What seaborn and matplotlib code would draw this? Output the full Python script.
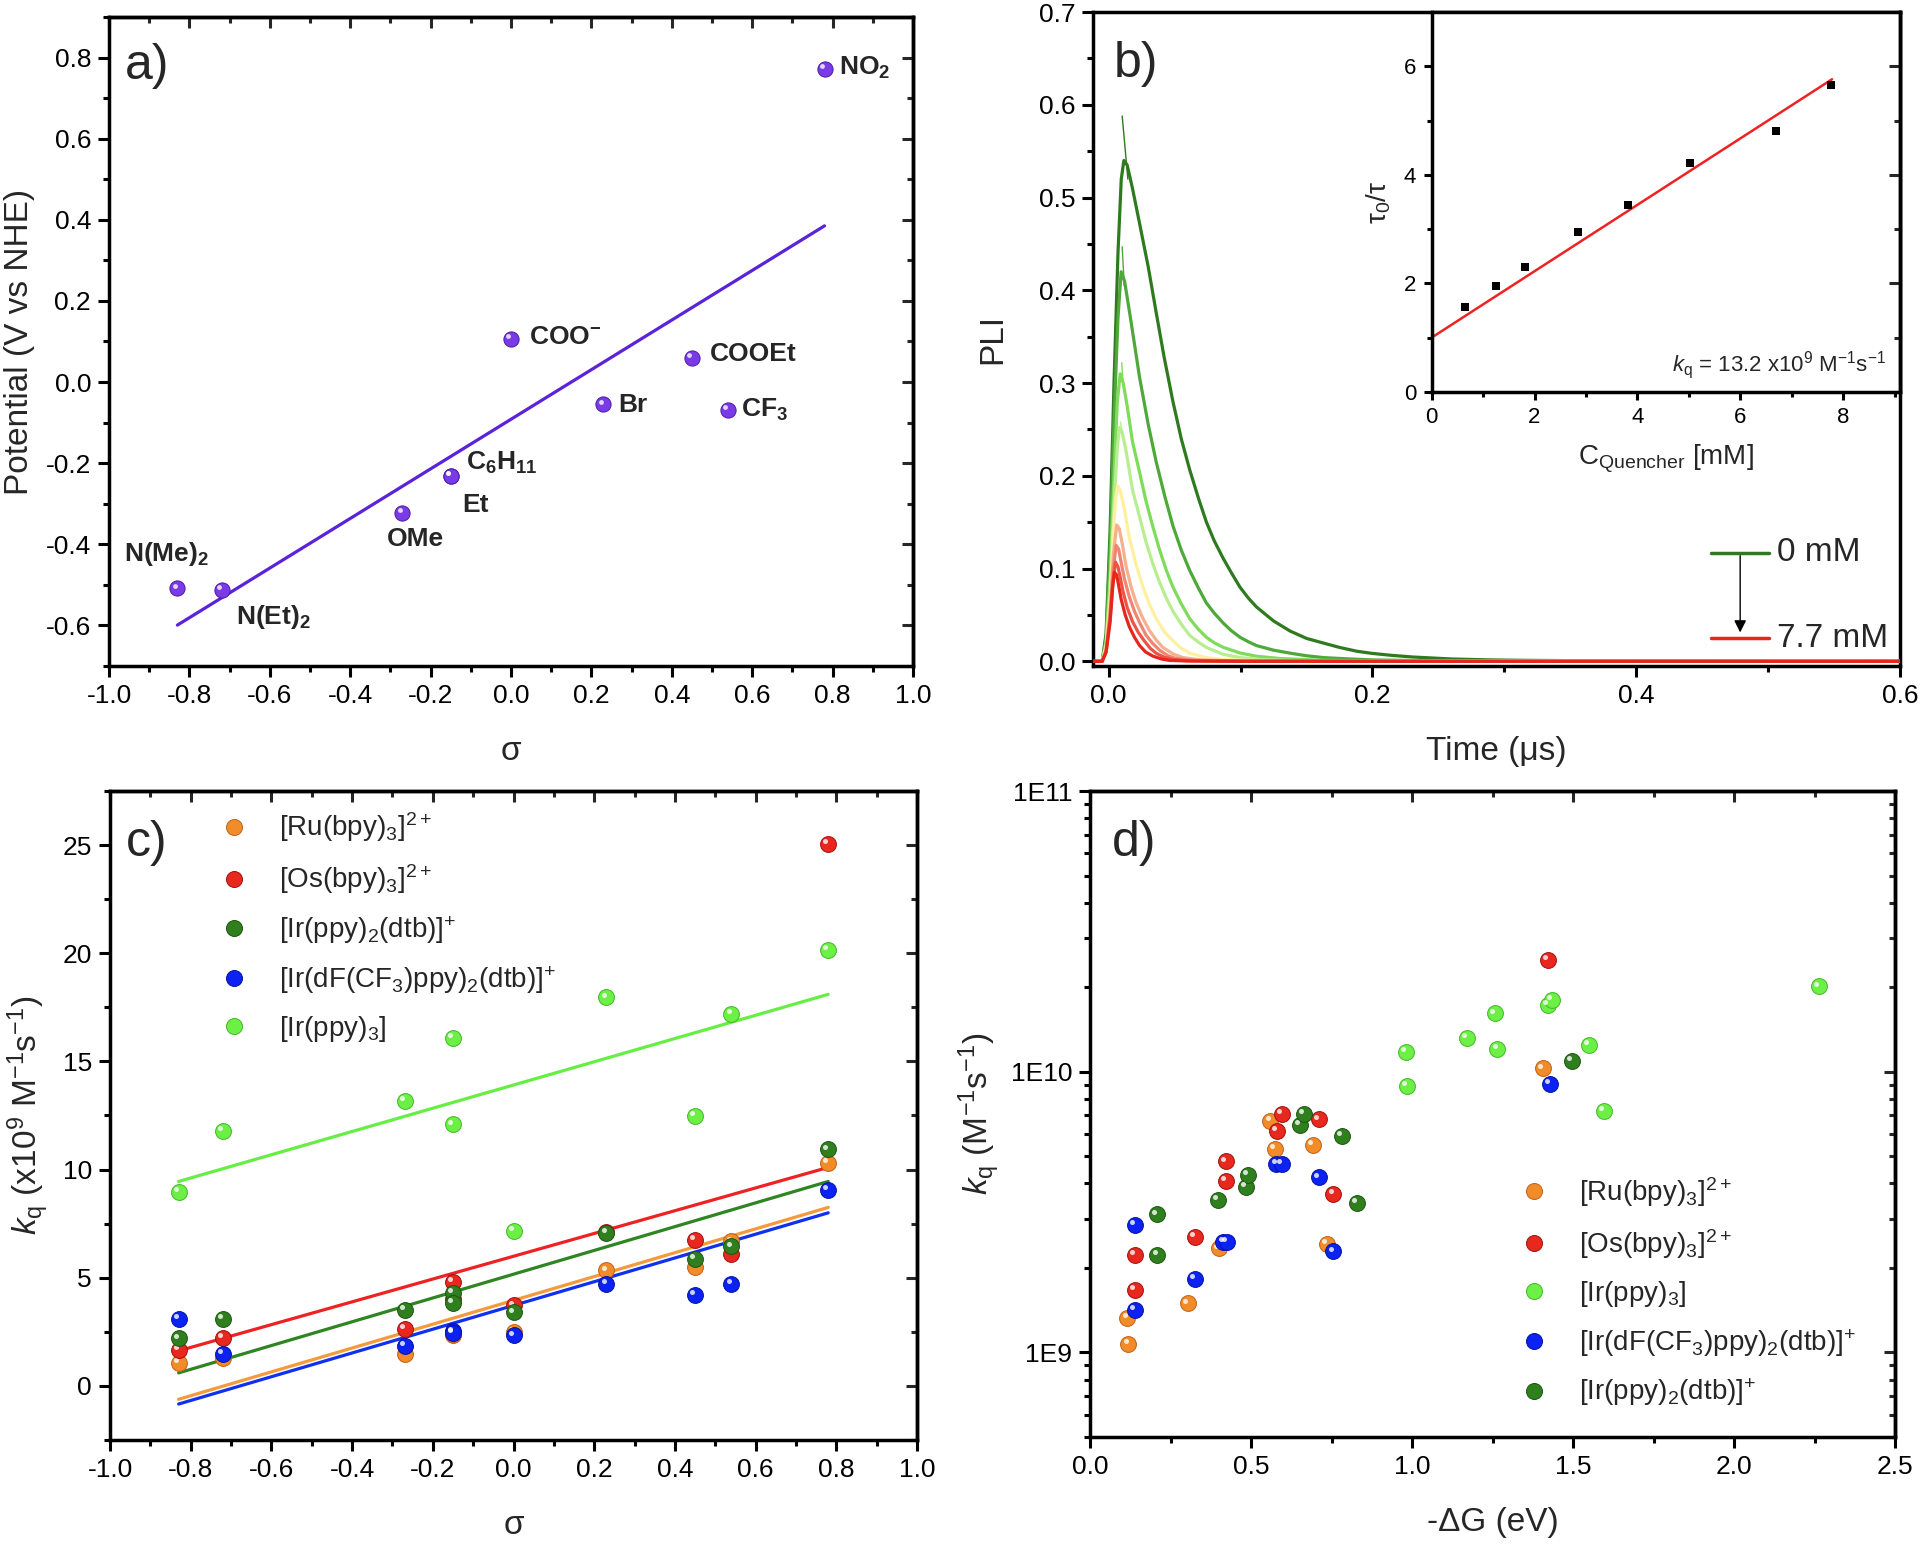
import numpy as np
import pandas as pd
import matplotlib
matplotlib.use("Agg")
import matplotlib.pyplot as plt
import seaborn as sns
from matplotlib.lines import Line2D
from matplotlib.ticker import MultipleLocator, LogLocator, NullFormatter, FixedLocator, FuncFormatter
from matplotlib.transforms import offset_copy

# ---------------- data ----------------
# panel a
sub_names = ["N(Me)$_\\mathbf{2}$", "N(Et)$_\\mathbf{2}$", "OMe", "Et", "C$_\\mathbf{6}$H$_\\mathbf{11}$",
             "COO$^{\\mathbf{-}}$", "Br", "COOEt", "CF$_\\mathbf{3}$", "NO$_\\mathbf{2}$"]
sigma = [-0.83, -0.72, -0.27, -0.15, -0.15, 0.00, 0.23, 0.45, 0.54, 0.78]
potential = [-0.509, -0.513, -0.322, -0.231, -0.231, 0.106, -0.055, 0.060, -0.068, 0.772]
label_x = [-0.963, -0.685, -0.309, -0.122, -0.111, 0.046, 0.266, 0.495, 0.571, 0.817]
label_y = [-0.423, -0.579, -0.387, -0.303, -0.200, 0.112, -0.056, 0.070, -0.068, 0.775]

# panel b: decay traces
b_conc = ["0 mM", "0.65 mM", "1.25 mM", "1.82 mM", "2.85 mM", "3.82 mM", "5.02 mM", "6.70 mM", "7.7 mM"]
b_t = [
    [-0.012, -0.005, -0.002, 0.001, 0.004, 0.007, 0.0095, 0.0115, 0.014, 0.018, 0.0234, 0.030, 0.036, 0.042, 0.0487,
     0.055, 0.0614, 0.068, 0.0741, 0.080, 0.0868, 0.093, 0.0995, 0.106, 0.112, 0.125, 0.1376, 0.15, 0.163, 0.175,
     0.188, 0.20, 0.214, 0.23, 0.26, 0.29, 0.32, 0.40, 0.6],
    [-0.012, -0.005, -0.002, 0.001, 0.004, 0.007, 0.0094, 0.012, 0.0165, 0.0234, 0.030, 0.036, 0.0425, 0.0487, 0.055,
     0.0614, 0.068, 0.074, 0.080, 0.087, 0.093, 0.0995, 0.106, 0.112, 0.125, 0.138, 0.15, 0.163, 0.18, 0.2, 0.25, 0.6],
    [-0.012, -0.005, -0.002, 0.001, 0.004, 0.0065, 0.0087, 0.011, 0.014, 0.018, 0.0235, 0.0284, 0.0335, 0.0386, 0.0437,
     0.0487, 0.055, 0.0614, 0.0677, 0.074, 0.080, 0.087, 0.0995, 0.112, 0.13, 0.16, 0.2, 0.6],
    [-0.012, -0.005, -0.002, 0.001, 0.004, 0.0065, 0.0081, 0.010, 0.013, 0.018, 0.0235, 0.0284, 0.0335, 0.0386, 0.0437,
     0.0487, 0.055, 0.0614, 0.0677, 0.074, 0.087, 0.0995, 0.115, 0.14, 0.2, 0.6],
    [-0.012, -0.005, -0.002, 0.001, 0.0035, 0.0055, 0.0069, 0.009, 0.012, 0.0157, 0.0208, 0.026, 0.031, 0.036, 0.042,
     0.0487, 0.055, 0.0614, 0.074, 0.087, 0.12, 0.6],
    [-0.012, -0.005, -0.002, 0.001, 0.0035, 0.0061, 0.008, 0.0105, 0.0132, 0.017, 0.0208, 0.026, 0.031, 0.036, 0.041,
     0.0487, 0.0563, 0.07, 0.1, 0.6],
    [-0.012, -0.005, -0.002, 0.001, 0.0035, 0.0056, 0.0075, 0.0095, 0.0119, 0.0155, 0.0195, 0.024, 0.0284, 0.0335,
     0.0386, 0.045, 0.051, 0.065, 0.1, 0.6],
    [-0.012, -0.005, -0.002, 0.001, 0.0033, 0.0051, 0.007, 0.0088, 0.0107, 0.014, 0.018, 0.0225, 0.027, 0.0315, 0.036,
     0.042, 0.0487, 0.06, 0.1, 0.6],
    [-0.012, -0.005, -0.002, 0.001, 0.003, 0.0043, 0.006, 0.0075, 0.0094, 0.0125, 0.0157, 0.0195, 0.0234, 0.028,
     0.0335, 0.04, 0.046, 0.06, 0.1, 0.6],
]
b_pli = [
    [0, 0, 0.03, 0.14, 0.30, 0.44, 0.52, 0.54, 0.535, 0.51, 0.472, 0.425, 0.376, 0.328, 0.280, 0.240, 0.2065, 0.176,
     0.150, 0.130, 0.111, 0.0955, 0.080, 0.068, 0.0587, 0.0435, 0.0326, 0.0247, 0.0196, 0.015, 0.0109, 0.0085,
     0.0065, 0.0047, 0.0025, 0.0015, 0.001, 0.0003, 0.0],
    [0, 0, 0.025, 0.12, 0.26, 0.37, 0.42, 0.41, 0.37, 0.306, 0.255, 0.215, 0.178, 0.146, 0.12, 0.098, 0.079, 0.063,
     0.052, 0.041, 0.033, 0.026, 0.021, 0.017, 0.012, 0.0087, 0.006, 0.004, 0.0027, 0.0015, 0.0005, 0],
    [0, 0, 0.02, 0.09, 0.20, 0.28, 0.31, 0.30, 0.275, 0.237, 0.203, 0.172, 0.145, 0.120, 0.098, 0.080, 0.062, 0.046,
     0.035, 0.026, 0.020, 0.015, 0.009, 0.0055, 0.003, 0.0012, 0.0004, 0],
    [0, 0, 0.018, 0.075, 0.17, 0.23, 0.252, 0.248, 0.228, 0.185, 0.155, 0.128, 0.105, 0.085, 0.068, 0.054, 0.040,
     0.028, 0.021, 0.015, 0.0075, 0.004, 0.002, 0.0008, 0.0002, 0],
    [0, 0, 0.015, 0.065, 0.14, 0.178, 0.189, 0.183, 0.163, 0.133, 0.104, 0.080, 0.061, 0.046, 0.032, 0.022, 0.014,
     0.0087, 0.004, 0.002, 0.0005, 0],
    [0, 0, 0.012, 0.055, 0.115, 0.147, 0.143, 0.125, 0.102, 0.080, 0.063, 0.046, 0.033, 0.023, 0.015, 0.008, 0.004,
     0.0015, 0.0003, 0],
    [0, 0, 0.011, 0.05, 0.10, 0.125, 0.121, 0.106, 0.089, 0.070, 0.054, 0.040, 0.028, 0.019, 0.012, 0.006, 0.003,
     0.001, 0.0002, 0],
    [0, 0, 0.01, 0.045, 0.088, 0.107, 0.102, 0.090, 0.076, 0.058, 0.043, 0.031, 0.022, 0.014, 0.0087, 0.0045, 0.002,
     0.0007, 0.0001, 0],
    [0, 0, 0.01, 0.042, 0.08, 0.096, 0.093, 0.082, 0.067, 0.050, 0.037, 0.026, 0.017, 0.010, 0.0056, 0.0025, 0.001,
     0.0003, 0.0, 0],
]
b_colors = ["#2E7A1E", "#4EA83A", "#7EDC5A", "#B8EE90", "#FFF0A0", "#F5B08E", "#F08672", "#EC5444", "#E5261C"]
spike_t = [[0.0102, 0.0145], [0.0102, 0.0118], [0.0099, 0.0108], [0.0090, 0.0095]]
spike_v = [[0.588, 0.52], [0.447, 0.405], [0.322, 0.300], [0.258, 0.250]]

# inset
conc_q = [0.65, 1.25, 1.82, 2.85, 3.82, 5.02, 6.70, 7.75]
tau_ratio = [1.57, 1.96, 2.31, 2.95, 3.45, 4.21, 4.81, 5.66]
sv_fit_x = [0.0, 7.78]
sv_fit_y = [1.0, 5.76]

# panel c
series_c = ["[Ru(bpy)$_3$]$^{2+}$", "[Os(bpy)$_3$]$^{2+}$", "[Ir(ppy)$_2$(dtb)]$^{+}$",
            "[Ir(dF(CF$_3$)ppy)$_2$(dtb)]$^{+}$", "[Ir(ppy)$_3$]"]
kq_ru = [1.07, 1.28, 1.49, 2.33, 2.40, 2.48, 5.34, 5.49, 6.68, 10.31]
kq_os = [1.67, 2.22, 2.63, 4.82, 4.00, 3.72, 7.10, 6.76, 6.10, 25.07]
kq_dtb = [2.20, 3.09, 3.52, 4.31, 3.85, 3.40, 7.07, 5.87, 6.45, 10.93]
kq_df = [3.09, 1.49, 1.84, 2.52, 2.45, 2.33, 4.73, 4.21, 4.73, 9.05]
kq_ppy3 = [8.98, 11.79, 13.18, 16.08, 12.09, 7.17, 17.96, 12.49, 17.20, 20.17]
fit_sigma = [-0.83, 0.78]
fit_ru = [-0.62, 8.25]
fit_os = [1.62, 10.10]
fit_dtb = [0.60, 9.45]
fit_df = [-0.84, 8.00]
fit_ppy3 = [9.45, 18.10]

# panel d
dg_ru = [0.118, 0.115, 0.304, 0.398, 0.559, 0.573, 0.691, 0.734, 1.406]
lk_ru = [9.030, 9.124, 9.175, 9.371, 9.825, 9.726, 9.740, 9.386, 10.012]
dg_os = [0.138, 0.138, 0.325, 0.420, 0.420, 0.594, 0.580, 0.709, 0.755, 1.421]
lk_os = [9.349, 9.222, 9.411, 9.612, 9.681, 9.849, 9.789, 9.830, 9.564, 10.399]
dg_ppy3 = [0.981, 0.983, 1.169, 1.256, 1.264, 1.421, 1.433, 1.549, 1.594, 2.262]
lk_ppy3 = [10.070, 9.951, 10.121, 10.208, 10.082, 10.238, 10.256, 10.097, 9.860, 10.304]
dg_df = [0.138, 0.138, 0.325, 0.413, 0.423, 0.578, 0.594, 0.710, 0.755, 1.426]
lk_df = [9.454, 9.152, 9.262, 9.395, 9.395, 9.673, 9.673, 9.624, 9.360, 9.957]
dg_dtb = [0.206, 0.208, 0.396, 0.484, 0.490, 0.651, 0.664, 0.781, 0.827, 1.495]
lk_dtb = [9.492, 9.347, 9.543, 9.590, 9.632, 9.812, 9.849, 9.771, 9.533, 10.038]

# colours
COL = {"ru": ("#F28C28", "#C0601A", "#F39A3A"),
       "os": ("#E8281E", "#A01010", "#EE2222"),
       "dtb": ("#2F7F1F", "#1C5410", "#2E8522"),
       "df": ("#0B22F2", "#0612A0", "#1030F0"),
       "ppy3": ("#6CF046", "#3FB824", "#66EE44")}
PURPLE = ("#7A3BE6", "#4A1CA8", "#5B23D9")

# ---------------- style ----------------
sns.set_style("ticks")
plt.rcParams['font.family'] = ['Liberation Sans', 'DejaVu Sans']
plt.rcParams['mathtext.fontset'] = 'custom'
plt.rcParams['mathtext.rm'] = 'Liberation Sans'
plt.rcParams['mathtext.it'] = 'Liberation Sans:italic'
plt.rcParams['mathtext.bf'] = 'Liberation Sans:bold'
plt.rcParams['axes.unicode_minus'] = False

fig = plt.figure(figsize=(19.2, 15.48), dpi=100)
ax_a = fig.add_axes([0.0568, 0.5698, 0.4187, 0.4192])
ax_b = fig.add_axes([0.5695, 0.5698, 0.4200, 0.4224])
ax_in = fig.add_axes([0.7456, 0.7468, 0.2440, 0.2455])
ax_c = fig.add_axes([0.0573, 0.0698, 0.4203, 0.4192])
ax_d = fig.add_axes([0.5679, 0.0717, 0.4193, 0.4173])

SPW, TW = 2.5, 2.2


def style(ax, xmaj, xmin, ymaj, ymin, lab=19, mirror=True, top=True, log=False):
    for sp in ax.spines.values():
        sp.set_visible(True)
        sp.set_linewidth(SPW)
        sp.set_color('black')
    ax.xaxis.set_major_locator(MultipleLocator(xmaj))
    ax.xaxis.set_minor_locator(MultipleLocator(xmin))
    if not log:
        ax.yaxis.set_major_locator(MultipleLocator(ymaj))
        ax.yaxis.set_minor_locator(MultipleLocator(ymin))
    ax.tick_params(which='both', direction='out', width=TW, colors='black', labelsize=lab,
                   top=False, right=False, pad=5)
    ax.tick_params(which='major', length=8)
    ax.tick_params(which='minor', length=4.5)
    if mirror:
        sec = ax.secondary_yaxis('right')
        sec.spines['right'].set_linewidth(SPW)
        if log:
            sec.yaxis.set_major_locator(LogLocator(base=10))
            sec.yaxis.set_minor_locator(LogLocator(base=10, subs=np.arange(2, 10)))
        else:
            sec.yaxis.set_major_locator(MultipleLocator(ymaj))
            sec.yaxis.set_minor_locator(MultipleLocator(ymin))
        sec.tick_params(which='both', direction='in', width=TW, labelright=False)
        sec.tick_params(which='major', length=8)
        sec.tick_params(which='minor', length=4.5)
        sec.yaxis.set_major_formatter(NullFormatter())
        sec.yaxis.set_minor_formatter(NullFormatter())
    if top:
        sx = ax.secondary_xaxis('top')
        sx.spines['top'].set_linewidth(SPW)
        sx.xaxis.set_major_locator(MultipleLocator(xmaj))
        sx.xaxis.set_minor_locator(MultipleLocator(xmin))
        sx.tick_params(which='both', direction='in', width=TW, labeltop=False)
        sx.tick_params(which='major', length=8)
        sx.tick_params(which='minor', length=4.5)
        sx.xaxis.set_major_formatter(NullFormatter())
        sx.xaxis.set_minor_formatter(NullFormatter())


def balls(ax, x, y, col, s, z):
    face, edge = col[0], col[1]
    sns.scatterplot(x=x, y=y, ax=ax, color=face, s=s, edgecolor=edge, linewidth=0.7, zorder=z, legend=False)
    tr = offset_copy(ax.transData, fig=fig, x=-2.0, y=2.0, units='points')
    ax.scatter(x, y, s=s * 0.10, color='white', alpha=0.8, linewidths=0, transform=tr, zorder=z + 0.5)


# ---------------- panel a ----------------
df_a = pd.DataFrame({"sigma": sigma, "E": potential})
sns.regplot(data=df_a, x="sigma", y="E", ax=ax_a, scatter=False, ci=None, truncate=True,
            line_kws=dict(color=PURPLE[2], lw=2.3))
balls(ax_a, sigma, potential, PURPLE, 120, 3)
for nm, lx, ly in zip(sub_names, label_x, label_y):
    ax_a.text(lx, ly, nm, fontsize=19, fontweight='bold', ha='left', va='center')
ax_a.set_xlim(-1.0, 1.0)
ax_a.set_ylim(-0.7, 0.9)
style(ax_a, 0.2, 0.1, 0.2, 0.1)
ax_a.xaxis.set_major_formatter(FuncFormatter(lambda v, p: f"{v:.1f}"))
ax_a.yaxis.set_major_formatter(FuncFormatter(lambda v, p: f"{v:.1f}"))
ax_a.set_xlabel("σ", fontsize=24, labelpad=20)
ax_a.set_ylabel("Potential (V vs NHE)", fontsize=24, labelpad=8)
ax_a.text(0.02, 0.925, "a)", transform=ax_a.transAxes, fontsize=36, va='center', ha='left')

# ---------------- panel b ----------------
for i in range(len(b_t)):
    sns.lineplot(x=b_t[i], y=b_pli[i], ax=ax_b, color=b_colors[i], lw=2.3, sort=False,
                 estimator=None, zorder=2 + i * 0.1)
for i in range(len(spike_t)):
    sns.lineplot(x=spike_t[i], y=spike_v[i], ax=ax_b, color=b_colors[i], lw=1.0, sort=False,
                 estimator=None, zorder=2 + i * 0.1)
ax_b.set_xlim(-0.0116, 0.6)
ax_b.set_ylim(-0.005, 0.7)
style(ax_b, 0.2, 0.1, 0.1, 0.05, mirror=False, top=False)
ax_b.xaxis.set_major_formatter(FuncFormatter(lambda v, p: f"{v:.1f}"))
ax_b.yaxis.set_major_formatter(FuncFormatter(lambda v, p: f"{v:.1f}"))
ax_b.set_xlabel("Time (μs)", fontsize=24, labelpad=20)
ax_b.set_ylabel("PLI", fontsize=24, labelpad=22)
ax_b.text(0.025, 0.92, "b)", transform=ax_b.transAxes, fontsize=36, va='center', ha='left')
# key with arrow
ax_b.plot([0.7655, 0.838], [0.173, 0.173], transform=ax_b.transAxes, color=b_colors[0], lw=2.5)
ax_b.plot([0.7655, 0.838], [0.0426, 0.0426], transform=ax_b.transAxes, color=b_colors[-1], lw=2.5)
ax_b.annotate("", xy=(0.802, 0.047), xytext=(0.802, 0.173), xycoords='axes fraction',
              arrowprops=dict(arrowstyle='-|>', color='black', lw=1.0, mutation_scale=18))
ax_b.text(0.848, 0.173, "0 mM", transform=ax_b.transAxes, fontsize=24, va='center', ha='left')
ax_b.text(0.848, 0.0426, "7.7 mM", transform=ax_b.transAxes, fontsize=24, va='center', ha='left')

# inset
ax_in.set_facecolor('white')
sns.lineplot(x=sv_fit_x, y=sv_fit_y, ax=ax_in, color='#EE2222', lw=1.8, sort=False, estimator=None)
sns.scatterplot(x=conc_q, y=tau_ratio, ax=ax_in, marker='s', color='black', s=40, linewidth=0, zorder=3)
ax_in.set_xlim(0, 9.1)
ax_in.set_ylim(0, 7)
style(ax_in, 2, 1, 2, 1, lab=16, top=False)
ax_in.tick_params(which='major', length=6)
ax_in.tick_params(which='minor', length=3.5)
ax_in.set_xlabel("C$_\\mathrm{Quencher}$ [mM]", fontsize=20, labelpad=10)
ax_in.set_ylabel("τ$_0$/τ", fontsize=20, labelpad=8)
ax_in.text(0.97, 0.07, "$k_\\mathrm{q}$ = 13.2 x10$^9$ M$^{-1}$s$^{-1}$", transform=ax_in.transAxes,
           fontsize=16, ha='right', va='center')

# ---------------- panel c ----------------
c_data = [(kq_ru, fit_ru, "ru"), (kq_os, fit_os, "os"), (kq_dtb, fit_dtb, "dtb"),
          (kq_df, fit_df, "df"), (kq_ppy3, fit_ppy3, "ppy3")]
for j, (vals, fit, key) in enumerate(c_data):
    sns.lineplot(x=fit_sigma, y=fit, ax=ax_c, color=COL[key][2], lw=2.3, sort=False, estimator=None, zorder=2)
for j, (vals, fit, key) in enumerate(c_data):
    balls(ax_c, sigma, vals, COL[key], 130, 3 + j)
ax_c.set_xlim(-1.0, 1.0)
ax_c.set_ylim(-2.5, 27.5)
style(ax_c, 0.2, 0.1, 5, 2.5)
ax_c.xaxis.set_major_formatter(FuncFormatter(lambda v, p: f"{v:.1f}"))
ax_c.yaxis.set_major_formatter(FuncFormatter(lambda v, p: f"{v:.0f}"))
ax_c.set_xlabel("σ", fontsize=24, labelpad=20)
ax_c.set_ylabel("$k_\\mathrm{q}$ (x10$^9$ M$^{-1}$s$^{-1}$)", fontsize=24, labelpad=8)
ax_c.text(0.02, 0.92, "c)", transform=ax_c.transAxes, fontsize=36, va='center', ha='left')
hc = [Line2D([], [], ls='', marker='o', markersize=11.5, markerfacecolor=COL[k][0],
             markeredgecolor=COL[k][1], markeredgewidth=0.7) for k in ["ru", "os", "dtb", "df", "ppy3"]]
ax_c.legend(hc, series_c, loc='center left', bbox_to_anchor=(0.137, 0.79), frameon=False, fontsize=20,
            handlelength=1.0, handletextpad=1.1, labelspacing=0.65, borderpad=0, borderaxespad=0)

# ---------------- panel d ----------------
ax_d.set_yscale('log')
d_data = [(dg_ru, lk_ru, "ru"), (dg_os, lk_os, "os"), (dg_ppy3, lk_ppy3, "ppy3"),
          (dg_df, lk_df, "df"), (dg_dtb, lk_dtb, "dtb")]
for j, (xg, lk, key) in enumerate(d_data):
    balls(ax_d, xg, list(10.0 ** np.array(lk)), COL[key], 130, 3 + j)
ax_d.set_xlim(0, 2.5)
ax_d.set_ylim(5e8, 1e11)
ax_d.yaxis.set_major_locator(FixedLocator([1e9, 1e10, 1e11]))
ax_d.yaxis.set_minor_locator(LogLocator(base=10, subs=np.arange(2, 10)))
ax_d.yaxis.set_major_formatter(FuncFormatter(lambda v, p: f"1E{int(round(np.log10(v)))}"))
ax_d.yaxis.set_minor_formatter(NullFormatter())
style(ax_d, 0.5, 0.25, None, None, log=True)
ax_d.xaxis.set_major_formatter(FuncFormatter(lambda v, p: f"{v:.1f}"))
ax_d.set_xlabel("-ΔG (eV)", fontsize=24, labelpad=20)
ax_d.set_ylabel("$k_\\mathrm{q}$ (M$^{-1}$s$^{-1}$)", fontsize=24, labelpad=6)
ax_d.text(0.027, 0.92, "d)", transform=ax_d.transAxes, fontsize=36, va='center', ha='left')
series_d = [series_c[0], series_c[1], series_c[4], series_c[3], series_c[2]]
hd = [Line2D([], [], ls='', marker='o', markersize=11.5, markerfacecolor=COL[k][0],
             markeredgecolor=COL[k][1], markeredgewidth=0.7) for k in ["ru", "os", "ppy3", "df", "dtb"]]
ax_d.legend(hd, series_d, loc='center left', bbox_to_anchor=(0.534, 0.225), frameon=False, fontsize=20,
            handlelength=1.0, handletextpad=1.1, labelspacing=0.65, borderpad=0, borderaxespad=0)

fig.savefig("out.png", dpi=100, facecolor='white')
